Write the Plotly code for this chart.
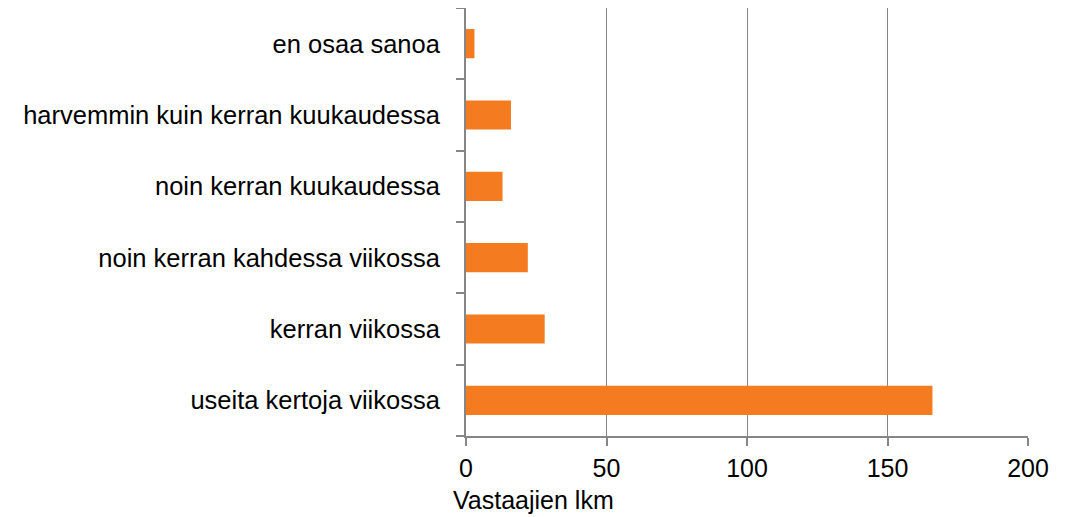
import plotly.graph_objects as go

categories = ["useita kertoja viikossa", "kerran viikossa", "noin kerran kahdessa viikossa",
              "noin kerran kuukaudessa", "harvemmin kuin kerran kuukaudessa", "en osaa sanoa"]
values = [166, 28, 22, 13, 16, 3]
x_ticks = [0, 50, 100, 150, 200]
x_title = "Vastaajien lkm"

FONT = "Liberation Sans"
fig = go.Figure(go.Bar(y=categories, x=values, orientation="h",
                       marker=dict(color="#F47B20", line=dict(width=0))))
fig.update_layout(
    width=1081, height=517,
    margin=dict(l=458, r=61, t=0, b=89),
    plot_bgcolor="white", paper_bgcolor="white",
    bargap=0.59, showlegend=False,
    font=dict(family=FONT, size=25, color="#000000"),
)
fig.update_xaxes(range=[0, 200], tickvals=x_ticks, showgrid=True, gridcolor="#868686", gridwidth=1.3,
                 showline=True, linecolor="#868686", linewidth=2, ticks="outside", ticklen=8,
                 tickcolor="#868686", tickwidth=2, ticklabelstandoff=1, zeroline=False,
                 tickfont=dict(size=25))
fig.update_yaxes(type="category", showgrid=False, showline=True, linecolor="#868686", linewidth=2,
                 ticks="outside", tickson="boundaries", ticklen=8, tickcolor="#868686", tickwidth=2,
                 ticklabelstandoff=19, tickfont=dict(size=25.5))
fig.add_annotation(text=x_title, xref="paper", yref="paper", x=-0.0267, y=-0.1495,
                   xanchor="left", yanchor="middle", showarrow=False, font=dict(size=25))
fig.write_html("out.html")
